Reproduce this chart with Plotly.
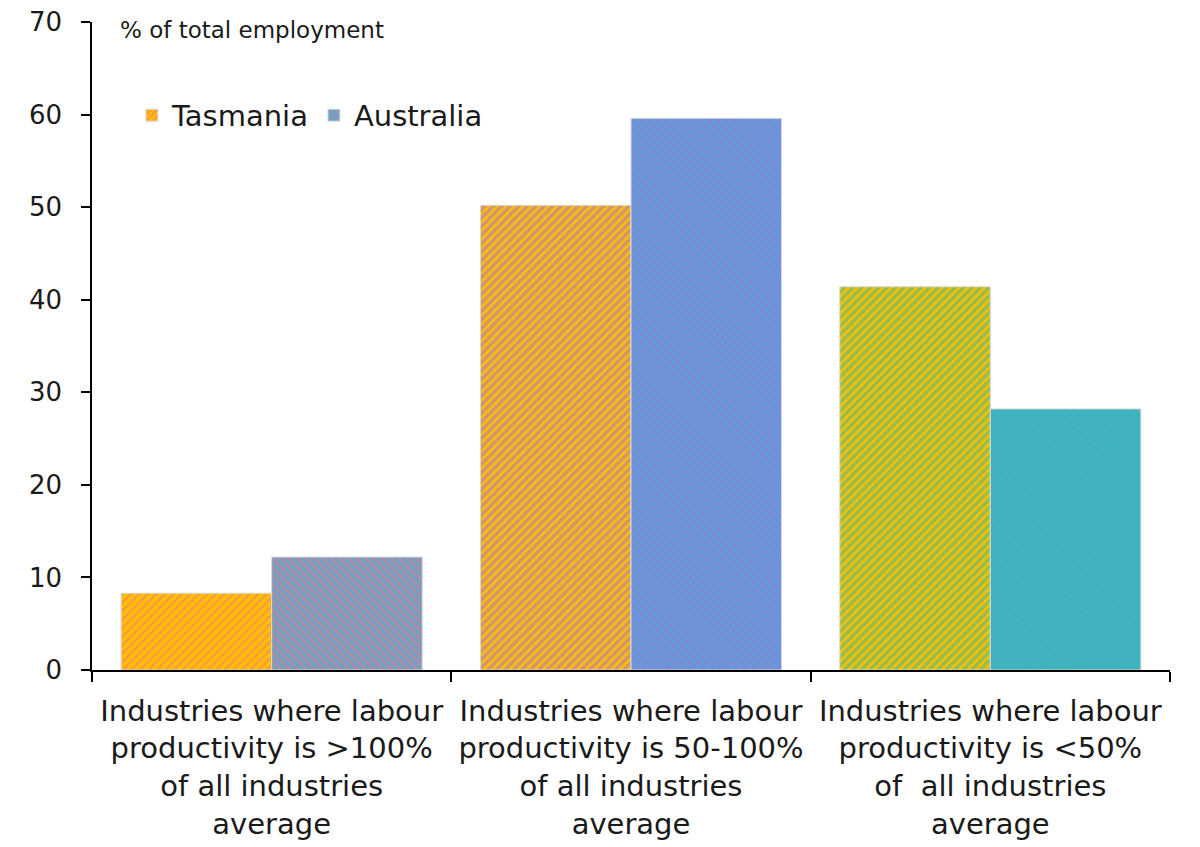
import plotly.graph_objects as go

categories = [
    "Industries where labour<br>productivity is >100%<br>of all industries<br>average",
    "Industries where labour<br>productivity is 50-100%<br>of all industries<br>average",
    "Industries where labour<br>productivity is <50%<br>of  all industries<br>average",
]
tasmania = [8.3, 50.2, 41.4]
australia = [12.2, 59.6, 28.2]
y_ticks = [0, 10, 20, 30, 40, 50, 60, 70]

fg_colors = ["#FF6F82", "#A56BE0", "#30B99C"]
tas_bg = "#FFC000"
aus_bg = "#4AAED4"

FONT = "DejaVu Sans"

fig = go.Figure()
fig.add_trace(go.Bar(
    name="Tasmania", x=categories, y=tasmania,
    marker=dict(color=tas_bg, line=dict(color="#D9D9D9", width=1),
                pattern=dict(shape="/", fgcolor=fg_colors, size=6,
                             solidity=[0.4, 0.6, 0.6], fillmode="overlay")),
))
fig.add_trace(go.Bar(
    name="Australia", x=categories, y=australia,
    marker=dict(color=aus_bg, line=dict(color="#D9D9D9", width=1),
                pattern=dict(shape="\\", fgcolor=fg_colors, size=6,
                             solidity=[0.72, 0.82, 0.78], fillmode="overlay")),
))

fig.update_layout(
    width=1200, height=847,
    paper_bgcolor="white", plot_bgcolor="white",
    margin=dict(l=84, r=38, t=14, b=185),
    barmode="group", bargap=0.162, bargroupgap=0,
    font=dict(family=FONT, color="#1a1a1a", size=24),
    showlegend=True,
    legend=dict(orientation="h", x=0.037, y=0.856, xanchor="left", yanchor="middle",
                font=dict(size=29, family=FONT), bgcolor="rgba(0,0,0,0)",
                itemwidth=30, traceorder="normal"),
    xaxis=dict(showline=True, linecolor="#000", linewidth=1.5, ticks="outside",
               tickson="boundaries", ticklen=10, tickcolor="#000", tickwidth=1.5,
               tickfont=dict(size=29, family=FONT), showgrid=False, automargin=False,
               ticklabelstandoff=14),
    yaxis=dict(range=[0, 70], tickvals=y_ticks, showline=True, linecolor="#000",
               linewidth=1.5, ticks="outside", ticklen=9, tickcolor="#000", tickwidth=1.5,
               tickfont=dict(size=26, family=FONT), showgrid=False, zeroline=False,
               ticklabelstandoff=14, automargin=False, ticklabeloverflow="allow"),
    annotations=[dict(text="% of total employment", xref="paper", yref="paper",
                      x=0.024, y=0.988, xanchor="left", yanchor="middle", showarrow=False,
                      font=dict(size=23, family=FONT))],
)

fig.write_html("out.html")
